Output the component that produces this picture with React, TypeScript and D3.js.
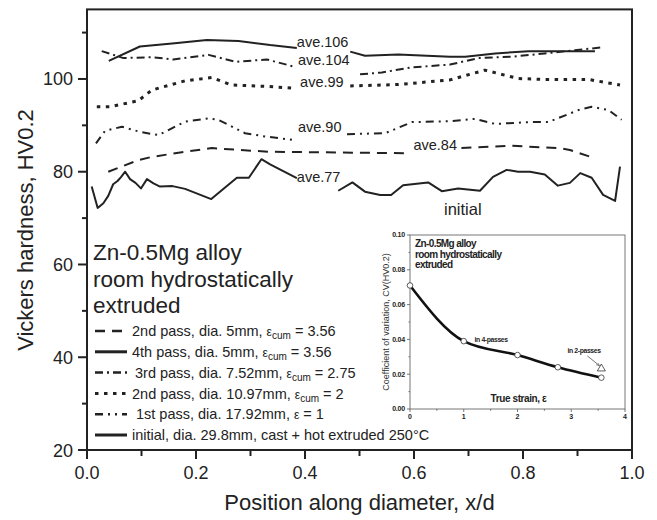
import React from 'react';
import * as d3 from 'd3';

type P = [number, number] | null;

// ---------- main chart data ----------
const xTicksMajor = [0, 0.2, 0.4, 0.6, 0.8, 1.0];
const xTicksMinor = [0.1, 0.3, 0.5, 0.7, 0.9];
const yTicksMajor = [20, 40, 60, 80, 100];
const yTicksMinor = [30, 50, 70, 90, 110];

const initialPts: P[] = [
  [0.0086, 76.8], [0.0196, 72.2], [0.03, 73.2], [0.039, 74.8], [0.048, 77.3], [0.056, 78],
  [0.062, 78.8], [0.07, 80], [0.079, 78.4], [0.089, 77.6], [0.099, 76.4], [0.11, 78.4],
  [0.122, 77.5], [0.134, 76.8], [0.157, 76.9], [0.18, 76.3], [0.228, 74.1], [0.25, 76.3],
  [0.275, 78.7], [0.297, 78.7], [0.32, 82.7], [0.336, 81.6], [0.385, 78.6], null,
  [0.461, 75.9], [0.487, 77.7], [0.51, 75.7], [0.538, 75], [0.558, 75], [0.58, 77.1],
  [0.605, 77.4], [0.626, 77.7], [0.651, 75.8], [0.681, 76.4], [0.721, 75.9], [0.745, 78.9],
  [0.77, 80.4], [0.791, 80], [0.813, 80], [0.84, 79.4], [0.864, 77], [0.886, 77.6],
  [0.905, 79.7], [0.926, 78.7], [0.947, 75], [0.969, 73.7], [0.978, 81.1],
];
const pass4Pts: P[] = [
  [0.04, 103.9], [0.097, 107], [0.161, 107.7], [0.22, 108.4], [0.278, 108.2], [0.336, 107.3],
  [0.385, 106.7], null, [0.483, 105.9], [0.51, 105], [0.571, 105.3], [0.666, 104.8],
  [0.694, 104.8], [0.749, 105.5], [0.81, 106], [0.932, 106],
];
const pass3Pts: P[] = [
  [0.027, 106], [0.067, 104.5], [0.119, 104.7], [0.158, 104.2], [0.223, 105.2], [0.272, 103.7],
  [0.33, 104.2], [0.382, 102.6], null, [0.501, 101], [0.541, 101.4], [0.596, 102.5],
  [0.666, 103.1], [0.718, 104.5], [0.779, 104.8], [0.84, 105.5], [0.944, 106.8],
];
const pass2thickPts: P[] = [
  [0.018, 94], [0.042, 94], [0.094, 95.3], [0.119, 97.6], [0.14, 98.3], [0.18, 99.6],
  [0.229, 100.3], [0.265, 98.7], [0.33, 98.4], [0.382, 98], null, [0.483, 98.5],
  [0.571, 98.8], [0.666, 99.8], [0.73, 101.9], [0.791, 100.1], [0.84, 99.9], [0.92, 99.9],
  [0.978, 98.7],
];
const pass1Pts: P[] = [
  [0.0165, 86.1], [0.033, 88.8], [0.064, 89.7], [0.097, 88.6], [0.131, 87.9], [0.18, 90.8],
  [0.223, 91.5], [0.241, 91.2], [0.29, 88.3], [0.327, 87.6], [0.382, 86.8], null,
  [0.477, 88.1], [0.547, 88.3], [0.596, 90.7], [0.666, 90.9], [0.712, 91.4], [0.749, 90.3],
  [0.81, 90.7], [0.846, 90.7], [0.902, 93.3], [0.926, 94], [0.957, 93.3], [0.981, 91.2],
];
const pass2thinPts: P[] = [
  [0.039, 80], [0.094, 82.5], [0.119, 83.2], [0.174, 84.2], [0.229, 85.1], [0.278, 84.7],
  [0.336, 84.3], [0.584, 84], null, [0.687, 85.1], [0.779, 85.6], [0.865, 85.1],
  [0.886, 84.7], [0.932, 82.9],
];

const aveLabels = ['ave.106', 'ave.104', 'ave.99', 'ave.90', 'ave.84', 'ave.77'];
const aveLabelPos: [number, number][] = [
  [0.385, 106.9], [0.387, 103.0], [0.391, 98.3], [0.387, 88.6], [0.599, 84.6], [0.385, 77.8],
];

// ---------- inset data ----------
const insetStrain = [0, 1, 2, 2.75, 3.56];
const insetCV = [0.071, 0.039, 0.031, 0.024, 0.018];
const insetTwoPass: [number, number] = [3.56, 0.0232];
const insetYTicks = [0, 0.02, 0.04, 0.06, 0.08, 0.1];
const insetYMinor = [0.01, 0.03, 0.05, 0.07, 0.09];
const insetXTicks = [0, 1, 2, 3, 4];
const insetXMinor = [0.5, 1.5, 2.5, 3.5];

const INK = '#222';
const FONT = '"Liberation Sans", Arial, Helvetica, sans-serif';

const styles = {
  dashed: { dash: '10,7', w: 2 },
  solid4: { dash: undefined as string | undefined, w: 2 },
  dashDot: { dash: '8,4,2,4', w: 2 },
  dotted: { dash: '3.5,5.5', w: 3 },
  dashDotDot: { dash: '8,5,2,5,2,5', w: 2 },
  solid: { dash: undefined as string | undefined, w: 2 },
};

export default function App() {
  const W = 657, H = 520;
  const x = d3.scaleLinear().domain([0, 1]).range([87, 632]);
  const y = d3.scaleLinear().domain([20, 115]).range([450, 9.4]);
  const line = d3.line<P>()
    .defined((d) => d !== null)
    .x((d) => x((d as [number, number])[0]))
    .y((d) => y((d as [number, number])[1]));

  const series = [
    { pts: initialPts, st: styles.solid },
    { pts: pass4Pts, st: styles.solid4 },
    { pts: pass3Pts, st: styles.dashDot },
    { pts: pass2thickPts, st: styles.dotted },
    { pts: pass1Pts, st: styles.dashDotDot },
    { pts: pass2thinPts, st: styles.dashed },
  ];

  const legend = [
    { st: styles.dashed, dx: 0, pre: '2nd pass, dia. 5mm, ', eps: true, sub: 'cum', post: ' = 3.56', sw: 2.5 },
    { st: styles.solid4, dx: 0, pre: '4th pass, dia. 5mm, ', eps: true, sub: 'cum', post: ' = 3.56', sw: 3 },
    { st: styles.dashDot, dx: 3, pre: '3rd pass, dia. 7.52mm, ', eps: true, sub: 'cum', post: ' = 2.75', sw: 2.5 },
    { st: styles.dotted, dx: 0, pre: '2nd pass, dia. 10.97mm, ', eps: true, sub: 'cum', post: ' = 2', sw: 3 },
    { st: styles.dashDotDot, dx: 4, pre: '1st pass, dia. 17.92mm, ', eps: true, sub: '', post: ' = 1', sw: 2.5 },
    { st: styles.solid, dx: 0, pre: 'initial, dia. 29.8mm, cast + hot extruded 250°C', eps: false, sub: '', post: '', sw: 3 },
  ];

  // inset scales
  const ix = d3.scaleLinear().domain([0, 4]).range([410, 625]);
  const iy = d3.scaleLinear().domain([0, 0.1]).range([409, 235]);
  const insetPts = insetStrain.map((s, i) => [s, insetCV[i]] as [number, number]);
  const insetLine = d3.line<[number, number]>()
    .x((d) => ix(d[0]))
    .y((d) => iy(d[1]))
    .curve(d3.curveMonotoneX);
  const tri = d3.symbol().type(d3.symbolTriangle).size(28)();

  const arrowFrom: [number, number] = [3.3, 0.0305];

  return (
    <svg width={W} height={H} style={{ position: 'absolute', left: 0, top: 0, background: '#fff' }}
      fontFamily={FONT}>
      <rect x={0} y={0} width={W} height={H} fill="#fff" />
      <defs>
        <marker id="arr" viewBox="0 0 10 10" refX="9" refY="5" markerWidth="5" markerHeight="5" orient="auto">
          <path d="M0,1 L10,5 L0,9" fill="none" stroke="#333" strokeWidth={1.2} />
        </marker>
      </defs>

      {/* series */}
      {series.map((s, i) => (
        <path key={i} d={line(s.pts) || ''} fill="none" stroke={INK} strokeWidth={s.st.w}
          strokeDasharray={s.st.dash} strokeLinejoin="round" />
      ))}

      {/* average labels */}
      {aveLabels.map((t, i) => (
        <text key={t} x={x(aveLabelPos[i][0])} y={y(aveLabelPos[i][1])} fontSize={14.5} fill={INK}>{t}</text>
      ))}
      <text x={x(0.655)} y={y(70.6)} fontSize={16.5} fill={INK}>initial</text>

      {/* frame */}
      <rect x={87} y={9.4} width={545} height={440.6} fill="none" stroke={INK} strokeWidth={2} />

      {/* y ticks */}
      {yTicksMajor.map((v) => (
        <g key={'ym' + v}>
          <line x1={78} x2={87} y1={y(v)} y2={y(v)} stroke={INK} strokeWidth={2} />
          <text x={73} y={y(v) + 6.5} fontSize={18} textAnchor="end" fill={INK}>{v}</text>
        </g>
      ))}
      {yTicksMinor.map((v) => (
        <line key={'yn' + v} x1={82} x2={87} y1={y(v)} y2={y(v)} stroke={INK} strokeWidth={2} />
      ))}
      {/* x ticks */}
      {xTicksMajor.map((v) => (
        <g key={'xm' + v}>
          <line x1={x(v)} x2={x(v)} y1={450} y2={459} stroke={INK} strokeWidth={2} />
          <text x={x(v)} y={479} fontSize={18} textAnchor="middle" fill={INK}>{v.toFixed(1)}</text>
        </g>
      ))}
      {xTicksMinor.map((v) => (
        <line key={'xn' + v} x1={x(v)} x2={x(v)} y1={450} y2={456} stroke={INK} strokeWidth={2} />
      ))}

      {/* axis titles */}
      <text x={359.5} y={510} fontSize={22} textAnchor="middle" fill={INK}>Position along diameter, x/d</text>
      <text transform={`translate(33,${230}) rotate(-90)`} fontSize={22} textAnchor="middle" fill={INK}>
        Vickers hardness, HV0.2
      </text>

      {/* annotation */}
      <g fontSize={22.5} fill={INK}>
        <text x={93} y={260}>Zn-0.5Mg alloy</text>
        <text x={93} y={287}>room hydrostatically</text>
        <text x={93} y={313}>extruded</text>
      </g>

      {/* legend */}
      {legend.map((l, i) => {
        const cy = 331 + i * 20.8;
        return (
          <g key={i}>
            <line x1={95} x2={127} y1={cy} y2={cy} stroke={INK} strokeWidth={l.sw} strokeDasharray={l.st.dash} />
            <text x={132 + l.dx} y={cy + 5.2} fontSize={14.5} fill={INK}>
              {l.pre}
              {l.eps && <tspan fontSize={12}>ε</tspan>}
              {l.sub && <tspan fontSize={10} dy={3}>{l.sub}</tspan>}
              {l.sub ? <tspan dy={-3}>{l.post}</tspan> : <tspan>{l.post}</tspan>}
            </text>
          </g>
        );
      })}

      {/* inset */}
      <g>
        <rect x={410} y={235} width={215} height={174} fill="#fff" stroke="#777" strokeWidth={1} />
        {insetYTicks.map((v) => (
          <g key={'iy' + v}>
            <line x1={407} x2={410} y1={iy(v)} y2={iy(v)} stroke="#555" strokeWidth={0.8} />
            <text x={405} y={iy(v) + 2.4} fontSize={7} fontWeight="bold" textAnchor="end" fill={INK} letterSpacing={-0.2}>{v.toFixed(2)}</text>
          </g>
        ))}
        {insetYMinor.map((v) => (
          <line key={'iyn' + v} x1={408.5} x2={410} y1={iy(v)} y2={iy(v)} stroke="#555" strokeWidth={0.8} />
        ))}
        {insetXTicks.map((v) => (
          <g key={'ix' + v}>
            <line x1={ix(v)} x2={ix(v)} y1={409} y2={412} stroke="#555" strokeWidth={0.8} />
            <text x={ix(v)} y={418.5} fontSize={7} fontWeight="bold" textAnchor="middle" fill={INK}>{v}</text>
          </g>
        ))}
        {insetXMinor.map((v) => (
          <line key={'ixn' + v} x1={ix(v)} x2={ix(v)} y1={409} y2={410.8} stroke="#555" strokeWidth={0.8} />
        ))}
        <path d={insetLine(insetPts) || ''} fill="none" stroke="#111" strokeWidth={2.6} />
        {insetPts.map((p, i) => (
          <circle key={i} cx={ix(p[0])} cy={iy(p[1])} r={2.8} fill="#fff" stroke="#333" strokeWidth={0.8} />
        ))}
        <path d={tri || ''} transform={`translate(${ix(insetTwoPass[0])},${iy(insetTwoPass[1])})`}
          fill="#fff" stroke="#333" strokeWidth={0.8} />
        <line x1={ix(arrowFrom[0])} y1={iy(arrowFrom[1])} x2={ix(insetTwoPass[0]) - 2} y2={iy(insetTwoPass[1]) - 3}
          stroke="#333" strokeWidth={0.7} markerEnd="url(#arr)" />
        <g fontSize={10} fontWeight="bold" fill={INK} letterSpacing={-0.6}>
          <text x={415} y={247}>Zn-0.5Mg alloy</text>
          <text x={415} y={257.5}>room hydrostatically</text>
          <text x={415} y={268}>extruded</text>
        </g>
        <text x={ix(1.2)} y={iy(0.0385)} fontSize={6.8} fontWeight="bold" fill={INK} letterSpacing={-0.35}>in 4-passes</text>
        <text x={ix(2.93)} y={iy(0.032)} fontSize={6.8} fontWeight="bold" fill={INK} letterSpacing={-0.35}>in 2-passes</text>
        <text x={518.5} y={401.5} fontSize={10} fontWeight="bold" textAnchor="middle" fill={INK} letterSpacing={-0.4}>True strain, ε</text>
        <text transform="translate(389,322) rotate(-90)" fontSize={9} textAnchor="middle" fill="#333">
          Coefficient of variation, CV(HV0.2)
        </text>
      </g>
    </svg>
  );
}
